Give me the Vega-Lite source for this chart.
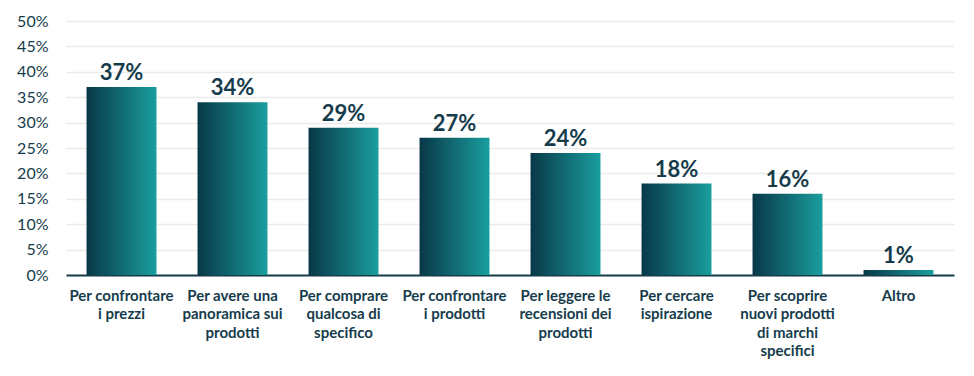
{
  "$schema": "https://vega.github.io/schema/vega-lite/v6.json",
  "autosize": {"type": "none"},
  "padding": {"left": 66, "top": 21, "right": 20, "bottom": 101},
  "width": 888,
  "height": 254,
  "background": "white",
  "config": {
    "view": {"stroke": null},
    "font": "Lato",
    "axis": {"labelFont": "Lato", "labelColor": "#163c4c"}
  },
  "data": {
    "values": [
      {"motivo": "Per confrontare|i prezzi", "valore": 37, "etichetta": "37%"},
      {"motivo": "Per avere una|panoramica sui|prodotti", "valore": 34, "etichetta": "34%"},
      {"motivo": "Per comprare|qualcosa di|specifico", "valore": 29, "etichetta": "29%"},
      {"motivo": "Per confrontare|i prodotti", "valore": 27, "etichetta": "27%"},
      {"motivo": "Per leggere le|recensioni dei|prodotti", "valore": 24, "etichetta": "24%"},
      {"motivo": "Per cercare|ispirazione", "valore": 18, "etichetta": "18%"},
      {"motivo": "Per scoprire|nuovi prodotti|di marchi|specifici", "valore": 16, "etichetta": "16%"},
      {"motivo": "Altro", "valore": 1, "etichetta": "1%"}
    ]
  },
  "encoding": {
    "x": {
      "field": "motivo",
      "type": "nominal",
      "sort": null,
      "scale": {"paddingInner": 0.37, "paddingOuter": 0.185},
      "axis": {
        "title": null,
        "labelAngle": 0,
        "labelExpr": "split(datum.label, '|')",
        "labelFontSize": 15,
        "labelFontWeight": "bold",
        "labelLineHeight": 18.5,
        "labelPadding": 13,
        "ticks": false,
        "domainColor": "#163c4c",
        "domainWidth": 2,
        "labelLimit": 200
      }
    },
    "y": {
      "field": "valore",
      "type": "quantitative",
      "scale": {"domain": [0, 50]},
      "axis": {
        "title": null,
        "values": [0, 5, 10, 15, 20, 25, 30, 35, 40, 45, 50],
        "labelExpr": "datum.value + '%'",
        "labelFontSize": 16,
        "labelPadding": 18,
        "ticks": false,
        "domain": false,
        "gridColor": "#ebebeb",
        "gridWidth": 1.5
      }
    }
  },
  "layer": [
    {
      "mark": {
        "type": "bar",
        "color": {
          "gradient": "linear",
          "x1": 0, "x2": 1, "y1": 0, "y2": 0,
          "stops": [
            {"offset": 0, "color": "#083848"},
            {"offset": 1, "color": "#1a9e9e"}
          ]
        }
      }
    },
    {
      "mark": {"type": "text", "baseline": "alphabetic", "dy": -7, "fontSize": 22, "fontWeight": "bold", "color": "#163c4c", "font": "Lato"},
      "encoding": {
        "text": {"field": "etichetta", "type": "nominal"}
      }
    }
  ]
}
